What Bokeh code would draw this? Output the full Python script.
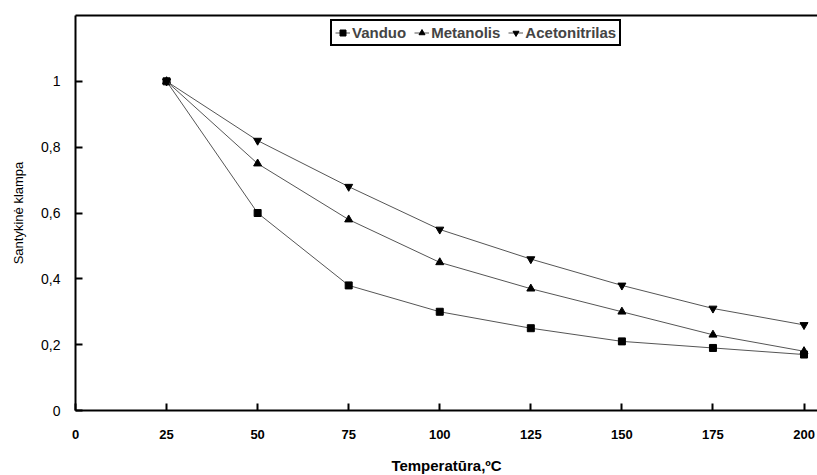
from bokeh.plotting import figure
from bokeh.models import Range1d, LinearAxis, FixedTicker, CustomJSTickFormatter, Legend
from bokeh.embed import file_html
from bokeh.resources import INLINE

temperature = [25, 50, 75, 100, 125, 150, 175, 200]
vanduo = [1.0, 0.60, 0.38, 0.30, 0.25, 0.21, 0.19, 0.17]
metanolis = [1.0, 0.75, 0.58, 0.45, 0.37, 0.30, 0.23, 0.18]
acetonitrilas = [1.0, 0.82, 0.68, 0.55, 0.46, 0.38, 0.31, 0.26]
x_ticks = [0, 25, 50, 75, 100, 125, 150, 175, 200]
y_ticks = [0, 0.2, 0.4, 0.6, 0.8, 1.0]

p = figure(width=817, height=475, frame_width=742, frame_height=395,
           min_border_left=75, min_border_right=0, min_border_top=15, min_border_bottom=65,
           x_range=Range1d(0, 203.7), y_range=Range1d(0, 1.2),
           output_backend="svg", toolbar_location=None,
           x_axis_location=None, y_axis_location=None)
p.xgrid.visible = False
p.ygrid.visible = False
p.outline_line_color = None
p.background_fill_color = "white"
p.border_fill_color = "white"

xa = LinearAxis(ticker=FixedTicker(ticks=x_ticks))
xa.axis_label = "Temperatūra,ºC"
ya = LinearAxis(ticker=FixedTicker(ticks=y_ticks))
ya.axis_label = "Santykinė klampa"
ya.formatter = CustomJSTickFormatter(code="return String(Math.round(tick*10)/10).replace('.', ',');")
for ax in (xa, ya):
    ax.axis_line_width = 2
    ax.axis_line_color = "black"
    ax.major_tick_in = 7
    ax.major_tick_out = 0
    ax.major_tick_line_width = 2
    ax.major_tick_line_color = "black"
    ax.minor_tick_line_color = None
    ax.major_label_text_color = "black"
    ax.axis_label_text_color = "black"
    ax.axis_label_text_font = "Liberation Sans"
    ax.major_label_text_font = "Liberation Sans"
xa.major_label_text_font_size = "13px"
xa.major_label_text_font_style = "bold"
xa.major_label_standoff = 19
xa.axis_label_text_font_size = "15px"
xa.axis_label_text_font_style = "bold"
xa.axis_label_standoff = 15
ya.major_label_text_font_size = "14px"
ya.major_label_text_font_style = "normal"
ya.major_label_standoff = 15
ya.axis_label_text_font_size = "13px"
ya.axis_label_text_font_style = "normal"
ya.axis_label_standoff = 12
p.add_layout(xa, "below")
p.add_layout(ya, "left")

top = LinearAxis(ticker=FixedTicker(ticks=[]), major_label_text_font_size="0px",
                 axis_line_width=2, axis_line_color="black", major_tick_line_color=None,
                 minor_tick_line_color=None)
p.add_layout(top, "above")

line_color = "#555555"
series = [("Vanduo", vanduo, "square", 7), ("Metanolis", metanolis, "triangle", 8),
          ("Acetonitrilas", acetonitrilas, "inverted_triangle", 8)]
items = []
for name, ys, marker, size in series:
    l = p.line(temperature, ys, line_color=line_color, line_width=1)
    s = p.scatter(temperature, ys, marker=marker, size=size, fill_color="black", line_color="black")
    items.append((name, [l, s]))

legend = Legend(items=items, orientation="horizontal", location=(255, 364))
legend.border_line_color = "black"
legend.border_line_alpha = 1.0
legend.border_line_width = 2
legend.background_fill_color = "white"
legend.background_fill_alpha = 1
legend.label_text_font = "Liberation Sans"
legend.label_text_font_style = "bold"
legend.label_text_font_size = "15px"
legend.glyph_width = 15
legend.glyph_height = 15
legend.label_standoff = 2
legend.spacing = 8
legend.padding = 3
legend.margin = 0
legend.label_height = 15
p.add_layout(legend, "center")

open("out.html", "w").write(file_html(p, INLINE))
